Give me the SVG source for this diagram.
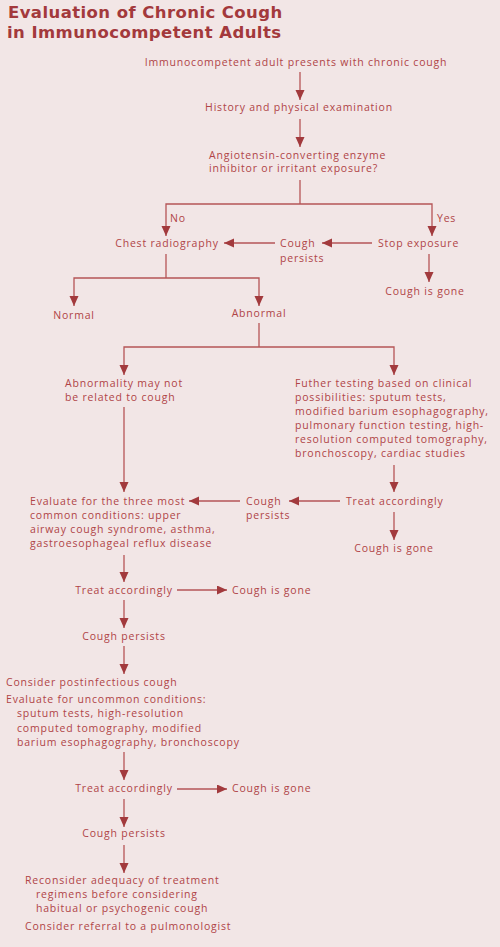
<svg xmlns="http://www.w3.org/2000/svg" width="500" height="947" viewBox="0 0 500 947">
<style>
.t{font-family:"Open Sans","Noto Sans","DejaVu Sans",sans-serif;font-size:10.5px;fill:#b04446;letter-spacing:0.8px}
.m{text-anchor:middle}
.title{font-family:"DejaVu Sans","Liberation Sans",sans-serif;font-size:16.5px;font-weight:bold;fill:#a3393c;letter-spacing:0.42px}
.c path{fill:none;stroke:#b55557;stroke-width:1.3}
</style>
<defs>
<marker id="ah" markerUnits="userSpaceOnUse" markerWidth="11" markerHeight="10" refX="10" refY="4.5" orient="auto">
<path d="M0,0 L10,4.5 L0,9 z" fill="#a23a3d"/>
</marker>
</defs>
<rect width="500" height="947" fill="#f2e6e6"/>
<g id="title">
<text class="title" x="8" y="17.5">Evaluation of Chronic Cough</text>
<text class="title" x="7" y="38">in Immunocompetent Adults</text>
</g>
<g class="c" id="connectors">
<path d="M300,72 V100" marker-end="url(#ah)"/>
<path d="M300,119 V147" marker-end="url(#ah)"/>
<path d="M300,180 V204"/>
<path d="M300,204 H166 V236" marker-end="url(#ah)"/>
<path d="M300,204 H432 V236" marker-end="url(#ah)"/>
<path d="M372,243 H322" marker-end="url(#ah)"/>
<path d="M275,243 H224" marker-end="url(#ah)"/>
<path d="M429,254 V282" marker-end="url(#ah)"/>
<path d="M166,254 V278"/>
<path d="M166,278 H74 V306" marker-end="url(#ah)"/>
<path d="M166,278 H259 V306" marker-end="url(#ah)"/>
<path d="M259,323 V347"/>
<path d="M259,347 H124 V375" marker-end="url(#ah)"/>
<path d="M259,347 H394 V375" marker-end="url(#ah)"/>
<path d="M124,407 V492" marker-end="url(#ah)"/>
<path d="M394,465 V492" marker-end="url(#ah)"/>
<path d="M340,501 H289" marker-end="url(#ah)"/>
<path d="M240,501 H189" marker-end="url(#ah)"/>
<path d="M394,512 V540" marker-end="url(#ah)"/>
<path d="M124,555 V582" marker-end="url(#ah)"/>
<path d="M177,590 H227" marker-end="url(#ah)"/>
<path d="M124,600 V628" marker-end="url(#ah)"/>
<path d="M124,646 V674" marker-end="url(#ah)"/>
<path d="M124,752 V780" marker-end="url(#ah)"/>
<path d="M177,789 H227" marker-end="url(#ah)"/>
<path d="M124,799 V827" marker-end="url(#ah)"/>
<path d="M124,845 V873" marker-end="url(#ah)"/>
</g>
<g id="n-start"><text class="t m" x="296" y="66">Immunocompetent adult presents with chronic cough</text></g>
<g id="n-history"><text class="t m" x="299" y="111">History and physical examination</text></g>
<g id="n-ace"><text class="t" x="209" y="159">Angiotensin-converting enzyme</text><text class="t" x="209" y="172">inhibitor or irritant exposure?</text></g>
<g id="l-no"><text class="t" x="170" y="222">No</text></g>
<g id="l-yes"><text class="t" x="437" y="222">Yes</text></g>
<g id="n-chest"><text class="t m" x="167" y="247">Chest radiography</text></g>
<g id="n-persists1"><text class="t" x="280" y="247">Cough</text><text class="t" x="280" y="262">persists</text></g>
<g id="n-stop"><text class="t" x="378" y="247">Stop exposure</text></g>
<g id="n-gone1"><text class="t m" x="425" y="295">Cough is gone</text></g>
<g id="n-normal"><text class="t m" x="74" y="319">Normal</text></g>
<g id="n-abnormal"><text class="t m" x="259" y="317">Abnormal</text></g>
<g id="n-notrelated"><text class="t" x="65" y="387">Abnormality may not</text><text class="t" x="65" y="401">be related to cough</text></g>
<g id="n-further">
<text class="t" x="295" y="387">Futher testing based on clinical</text>
<text class="t" x="295" y="401">possibilities: sputum tests,</text>
<text class="t" x="295" y="415">modified barium esophagography,</text>
<text class="t" x="295" y="429">pulmonary function testing, high-</text>
<text class="t" x="295" y="443">resolution computed tomography,</text>
<text class="t" x="295" y="457">bronchoscopy, cardiac studies</text>
</g>
<g id="n-three">
<text class="t" x="30" y="505">Evaluate for the three most</text>
<text class="t" x="30" y="519">common conditions: upper</text>
<text class="t" x="30" y="533">airway cough syndrome, asthma,</text>
<text class="t" x="30" y="547">gastroesophageal reflux disease</text>
</g>
<g id="n-persists2"><text class="t" x="246" y="505">Cough</text><text class="t" x="246" y="519">persists</text></g>
<g id="n-treat1"><text class="t" x="346" y="505">Treat accordingly</text></g>
<g id="n-gone2"><text class="t m" x="394" y="552">Cough is gone</text></g>
<g id="n-treat2"><text class="t m" x="124" y="594">Treat accordingly</text></g>
<g id="n-gone3"><text class="t" x="232" y="594">Cough is gone</text></g>
<g id="n-persists3"><text class="t m" x="124" y="640">Cough persists</text></g>
<g id="n-uncommon">
<text class="t" x="6" y="686">Consider postinfectious cough</text>
<text class="t" x="6" y="703">Evaluate for uncommon conditions:</text>
<text class="t" x="17" y="717">sputum tests, high-resolution</text>
<text class="t" x="17" y="732">computed tomography, modified</text>
<text class="t" x="17" y="746">barium esophagography, bronchoscopy</text>
</g>
<g id="n-treat3"><text class="t m" x="124" y="792">Treat accordingly</text></g>
<g id="n-gone4"><text class="t" x="232" y="792">Cough is gone</text></g>
<g id="n-persists4"><text class="t m" x="124" y="837">Cough persists</text></g>
<g id="n-reconsider">
<text class="t" x="25" y="884">Reconsider adequacy of treatment</text>
<text class="t" x="36" y="898">regimens before considering</text>
<text class="t" x="36" y="912">habitual or psychogenic cough</text>
<text class="t" x="25" y="930">Consider referral to a pulmonologist</text>
</g>
</svg>
